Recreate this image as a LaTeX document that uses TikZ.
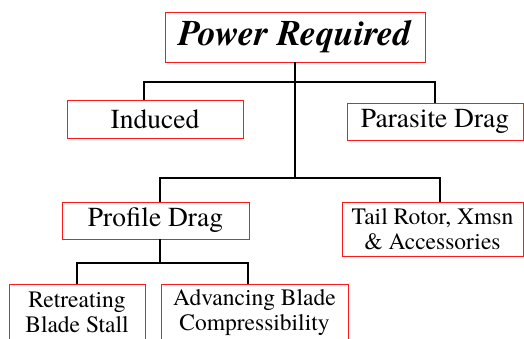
\documentclass[tikz,border=0pt]{standalone}
\usepackage{fontspec}
\setmainfont{texgyretermes}[Extension=.otf, UprightFont=*-regular,
  BoldFont=*-bold, ItalicFont=*-italic, BoldItalicFont=*-bolditalic]
\usetikzlibrary{positioning}

\begin{document}
\begin{tikzpicture}[
      x=1pt, y=1pt,
      box/.style={draw=red!90, line width=0.9pt, align=center, inner sep=0pt},
      big/.style={font=\fontsize{27.5}{30}\selectfont},
      small/.style={font=\fontsize{23.5}{24.5}\selectfont},
      link/.style={line width=1.4pt}
    ]
    \useasboundingbox (0,0) rectangle (524,338);

    \node[box, minimum width=260pt, minimum height=50pt,
      font=\fontsize{36}{38}\selectfont\bfseries\itshape] at (295,301) (power) {Power Required};
    \node[box, big, minimum width=176pt, minimum height=38pt] at (155,219) (induced) {Induced};
    \node[box, big, minimum width=176pt, minimum height=37pt] at (435,216.5) (parasite) {Parasite Drag};
    \node[box, big, minimum width=187pt, minimum height=37pt] at (155.5,117.5) (profile) {Profile Drag};
    \node[box, small, minimum width=181pt, minimum height=54pt] at (432.5,109) (tail) {Tail Rotor, Xmsn\\\& Accessories};
    \node[box, small, minimum width=136pt, minimum height=57pt] at (77,25.5) (retreat) {Retreating\\Blade Stall};
    \node[box, small, minimum width=187pt, minimum height=57pt] at (254.5,25.5) (advance) {Advancing Blade\\Compressibility};

    % junctions of the tree
    \coordinate (top) at (295,256);
    \coordinate (mid) at (295,160);
    \coordinate (low) at (160,75);

    \draw[link] (power.south) -- (top) -- (mid);
    \draw[link] ([xshift=-11pt]induced.north) |- (top) -| (parasite.north);
    \draw[link] ([xshift=4.5pt]profile.north) |- (mid) -| ([xshift=7.5pt]tail.north);
    \draw[link] ([xshift=4.5pt]profile.south) -- (low);
    \draw[link] (retreat.north) |- (low) -| ([xshift=-6.5pt]advance.north);
  \end{tikzpicture}
\end{document}
